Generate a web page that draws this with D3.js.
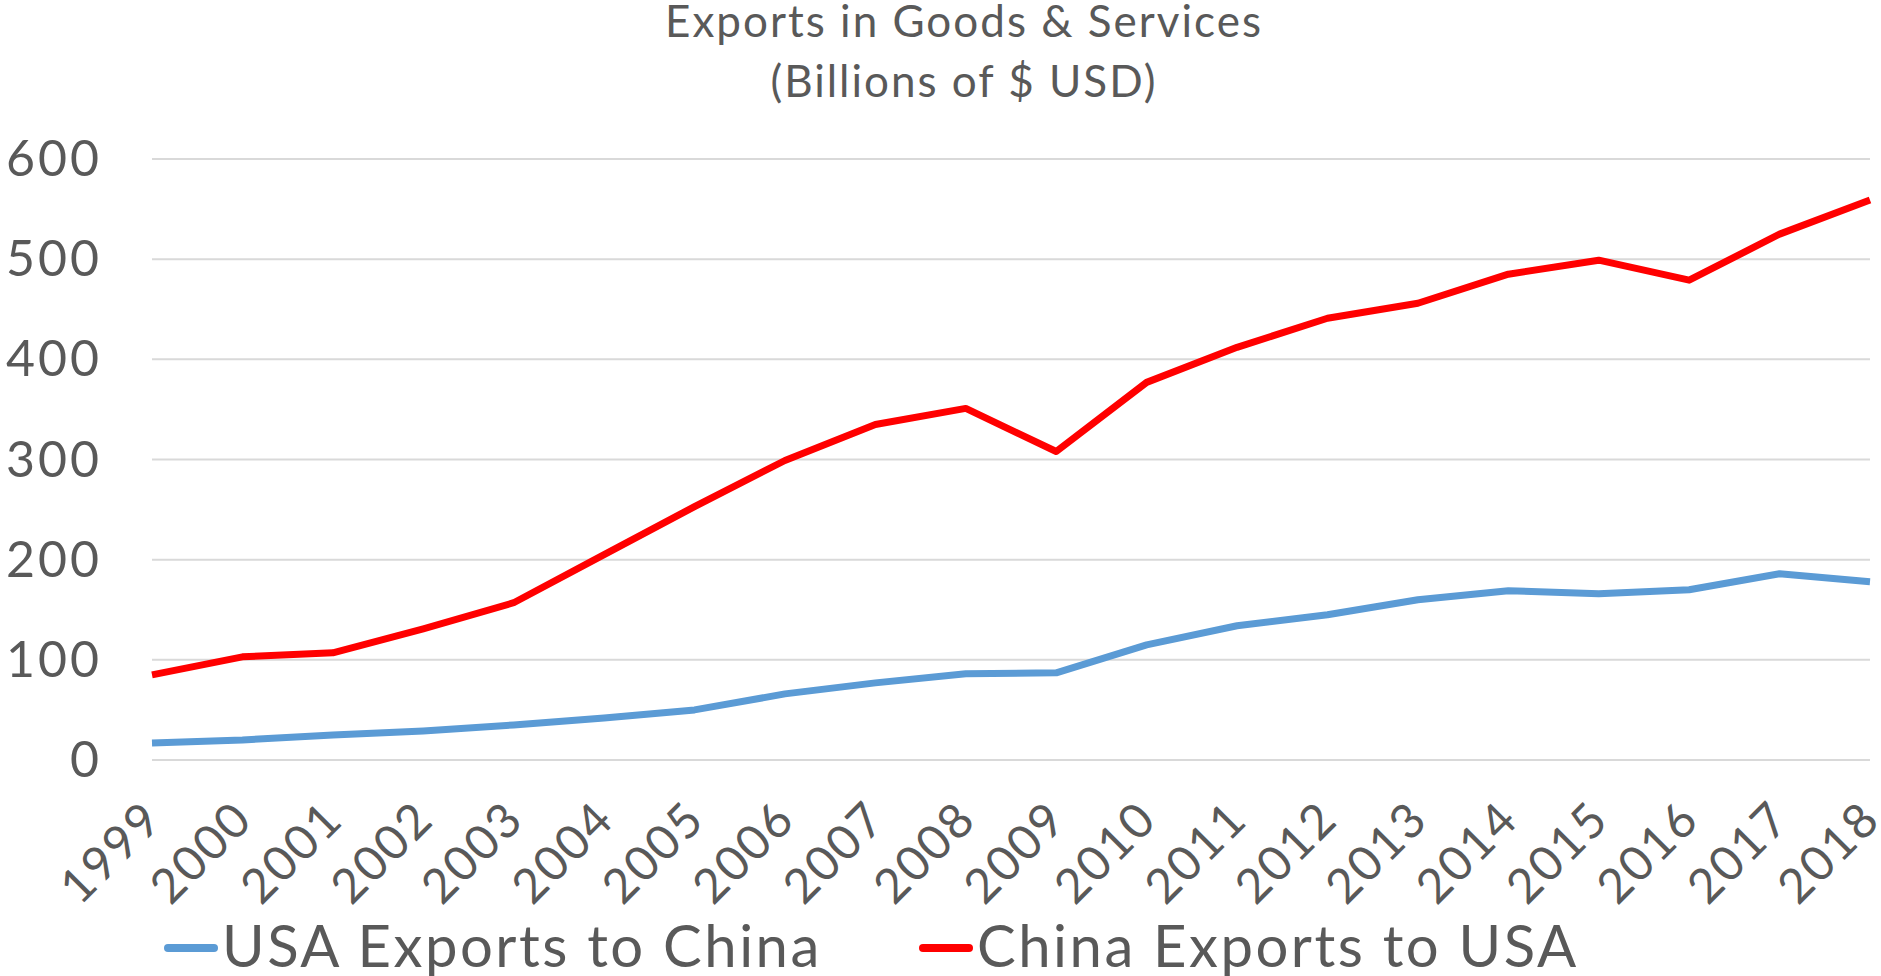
<!DOCTYPE html>
<html>
<head>
<meta charset="utf-8">
<script src="https://cdn.jsdelivr.net/npm/d3@7"></script>
<style>
  body { margin: 0; background: #fff; }
  text { font-family: Lato, "Open Sans", sans-serif; fill: #595959; }
  .grid line { stroke: #d9d9d9; stroke-width: 2; }
</style>
</head>
<body>
<div id="chart"></div>
<script>
// Years on the x axis
const years = ["1999", "2000", "2001", "2002", "2003", "2004", "2005", "2006", "2007", "2008",
    "2009", "2010", "2011", "2012", "2013", "2014", "2015", "2016", "2017", "2018"];

// Billions of $ USD
const usaToChina = [17, 20, 25, 29, 35, 42, 50, 66, 77, 86, 87, 115, 134, 145, 160, 169, 166, 170, 186, 178];
const chinaToUsa = [85, 103, 107, 131, 157, 205, 253, 299, 335, 351, 308, 377, 412, 441, 456, 485, 499, 479, 525, 559];

const yTicks = [0, 100, 200, 300, 400, 500, 600];

const series = [
    { name: "USA Exports to China", values: usaToChina, color: "#5b9bd5" },
    { name: "China Exports to USA", values: chinaToUsa, color: "#ff0000" }
];

const W = 1881, H = 976;
const margin = { top: 159, right: 11, bottom: 216, left: 152 };

const svg = d3.select("#chart")
    .append("svg")
    .attr("width", W)
    .attr("height", H);

// Title, two lines
const titleLines = ["Exports in Goods & Services", "(Billions of $ USD)"];
svg.selectAll(".title")
    .data(titleLines)
    .enter()
    .append("text")
    .attr("class", "title")
    .attr("x", 964)
    .attr("y", (d, i) => 37 + i * 60)
    .attr("text-anchor", "middle")
    .style("font-size", "44px")
    .style("letter-spacing", "2px")
    .text(d => d);

const x = d3.scalePoint()
    .domain(years)
    .range([margin.left, W - margin.right]);

const y = d3.scaleLinear()
    .domain([0, 600])
    .range([H - margin.bottom, margin.top]);

// Horizontal gridlines
svg.append("g")
    .attr("class", "grid")
    .selectAll("line")
    .data(yTicks)
    .enter()
    .append("line")
    .attr("x1", margin.left)
    .attr("x2", W - margin.right)
    .attr("y1", d => y(d))
    .attr("y2", d => y(d));

// Y axis labels
const yAxis = svg.append("g")
    .attr("transform", `translate(${margin.left - 50},0)`)
    .call(d3.axisLeft(y).tickValues(yTicks).tickSize(0).tickPadding(0));
yAxis.select(".domain").remove();
yAxis.selectAll("text")
    .style("font-size", "50px")
    .style("letter-spacing", "3px")
    .attr("dy", "0.33em");

// X axis labels, rotated
const xAxis = svg.append("g")
    .attr("transform", `translate(0,${H - margin.bottom})`)
    .call(d3.axisBottom(x).tickSize(0).tickPadding(0));
xAxis.select(".domain").remove();
xAxis.selectAll("text")
    .style("font-size", "48px")
    .style("letter-spacing", "2px")
    .attr("text-anchor", "end")
    .attr("dy", "0")
    .attr("transform", "translate(12,62) rotate(-45)");

// Lines
const line = d3.line()
    .x((d, i) => x(years[i]))
    .y(d => y(d));

svg.selectAll(".series")
    .data(series)
    .enter()
    .append("path")
    .attr("class", "series")
    .attr("fill", "none")
    .attr("stroke", d => d.color)
    .attr("stroke-width", 7)
    .attr("stroke-linejoin", "round")
    .attr("d", d => line(d.values));

// Legend at the bottom
const legendX = [164, 919];
const legend = svg.selectAll(".legend")
    .data(series)
    .enter()
    .append("g")
    .attr("class", "legend")
    .attr("transform", (d, i) => `translate(${legendX[i]},948)`);

legend.append("line")
    .attr("x1", 4).attr("x2", 50)
    .attr("stroke", d => d.color)
    .attr("stroke-width", 8)
    .attr("stroke-linecap", "round");

legend.append("text")
    .attr("x", 58)
    .attr("y", 19)
    .style("font-size", "58px")
    .style("letter-spacing", "2.5px")
    .text(d => d.name);
</script>
</body>
</html>
